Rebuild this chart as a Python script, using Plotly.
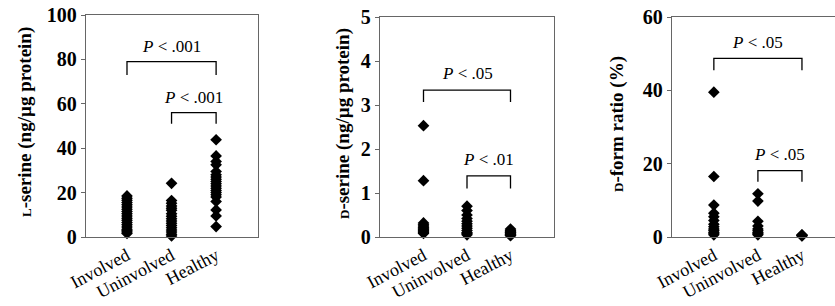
import plotly.graph_objects as go

# ---------------- data ----------------
groups = ["Involved", "Uninvolved", "Healthy"]

l_serine_involved = [18.5, 17.5, 16.5, 15.5, 14.5, 13.5, 12.5, 11.5, 10.5, 9.5, 8.5, 7.5, 6.5, 5.5, 4.5, 3.5, 2.8, 2.2, 1.6]
l_serine_uninvolved = [24.2, 16.4, 15.2, 14, 13, 12, 10.5, 9.3, 8.2, 7.2, 6.2, 5.2, 4.2, 3.2, 2.2, 1.2, 0.5]
l_serine_healthy = [43.8, 36.5, 34, 32.5, 29.5, 28, 27, 26, 25, 24, 23, 22, 21, 20, 19, 18, 16, 12.2, 9.5, 4.7]

d_serine_involved = [2.53, 1.28, 0.32, 0.28, 0.25, 0.22, 0.2, 0.17, 0.15, 0.12, 0.1, 0.08]
d_serine_uninvolved = [0.7, 0.6, 0.5, 0.42, 0.36, 0.3, 0.25, 0.2, 0.15, 0.1, 0.08, 0.05]
d_serine_healthy = [0.18, 0.15, 0.13, 0.11, 0.1, 0.08, 0.06, 0.05, 0.04, 0.03]

d_ratio_involved = [39.5, 16.5, 8.7, 6.5, 5.5, 4.5, 3.5, 2.8, 2.2, 1.8, 1.3, 1.0, 0.6]
d_ratio_uninvolved = [11.8, 9.8, 4.3, 3.0, 2.2, 1.7, 1.2, 0.9, 0.6]
d_ratio_healthy = [0.6, 0.5, 0.4, 0.3]

y_ranges = [[0, 100], [0, 5], [0, 60]]
y_dticks = [20, 1, 20]

# significance brackets: (panel, left group, right group, bar level, leg end, label level, label)
brackets = [
    (0, 0, 2, 79, 73, 86, "<i>P</i> < .001"),
    (0, 1, 2, 56, 51, 63, "<i>P</i> < .001"),
    (1, 0, 2, 3.34, 3.07, 3.72, "<i>P</i> < .05"),
    (1, 1, 2, 1.39, 1.10, 1.77, "<i>P</i> < .01"),
    (2, 0, 2, 48.7, 45.5, 53, "<i>P</i> < .05"),
    (2, 1, 2, 18.1, 15.1, 22.6, "<i>P</i> < .05"),
]

panels = [
    [l_serine_involved, l_serine_uninvolved, l_serine_healthy],
    [d_serine_involved, d_serine_uninvolved, d_serine_healthy],
    [d_ratio_involved, d_ratio_uninvolved, d_ratio_healthy],
]

small = "<span style='font-size:13px'>{}</span>"
y_titles = [
    small.format("L") + "-serine (ng/µg protein)",
    small.format("D") + "-serine (ng/µg protein)",
    small.format("D") + "-form ratio (%)",
]

# ---------------- layout geometry ----------------
W, H = 835, 306
x_domains = [[86 / W, 258 / W], [380 / W, 554 / W], [672 / W, 1.0]]
y_domains = [[1 - 237 / H, 1 - 15 / H], [1 - 237 / H, 1 - 17 / H], [1 - 237 / H, 1 - 17 / H]]
x_ranges = [[-0.92, 2.94], [-1.0, 3.0], [-0.95, 2.75]]
title_x = [25, 343, 617]
title_y = [122, 124, 124]

SERIF = "Liberation Serif"

fig = go.Figure()

for p, series in enumerate(panels):
    xa = "x" if p == 0 else f"x{p + 1}"
    ya = "y" if p == 0 else f"y{p + 1}"
    for g, vals in enumerate(series):
        fig.add_trace(go.Scatter(
            x=[g] * len(vals), y=vals, xaxis=xa, yaxis=ya,
            mode="markers", cliponaxis=False, showlegend=False,
            marker=dict(symbol="diamond", size=9, color="black"),
        ))
    axkey = "" if p == 0 else str(p + 1)
    fig.layout["xaxis" + axkey] = dict(
        domain=x_domains[p], range=x_ranges[p], anchor=ya,
        tickvals=[0, 1, 2], ticktext=groups, tickangle=-28,
        tickfont=dict(family=SERIF, size=18, color="black"),
        showline=True, linecolor="#666", linewidth=1.3, mirror=True,
        showgrid=False, zeroline=False, ticks="", automargin=False,
    )
    fig.layout["yaxis" + axkey] = dict(
        domain=y_domains[p], range=y_ranges[p], anchor=xa,
        dtick=y_dticks[p], tick0=0,
        tickfont=dict(family=SERIF, size=20, color="black", weight="bold"),
        showline=True, linecolor="#666", linewidth=1.3, mirror=True,
        showgrid=False, zeroline=False, ticks="outside", ticklen=4,
        tickcolor="#666", automargin=False,
    )
    fig.add_annotation(
        x=title_x[p] / W, y=1 - title_y[p] / H, xref="paper", yref="paper",
        xanchor="center", yanchor="middle",
        text=y_titles[p], textangle=-90, showarrow=False,
        font=dict(family=SERIF, size=19, color="black", weight="bold"),
    )

for (p, g1, g2, top, leg, lab, txt) in brackets:
    xr = "x" if p == 0 else f"x{p + 1}"
    yr = "y" if p == 0 else f"y{p + 1}"
    fig.add_shape(
        type="path", xref=xr, yref=yr,
        path=f"M {g1},{leg} L {g1},{top} L {g2},{top} L {g2},{leg}",
        line=dict(color="black", width=1.3),
    )
    fig.add_annotation(
        x=(g1 + g2) / 2, y=lab, xref=xr, yref=yr, text=txt, showarrow=False,
        font=dict(family=SERIF, size=17, color="black"),
    )

fig.update_layout(
    width=W, height=H, margin=dict(l=0, r=0, t=0, b=0),
    plot_bgcolor="white", paper_bgcolor="white",
)

fig.write_html(
    "out.html",
    config={"displayModeBar": False},
    post_script="document.body.style.margin='0';document.body.style.overflow='hidden';",
)
